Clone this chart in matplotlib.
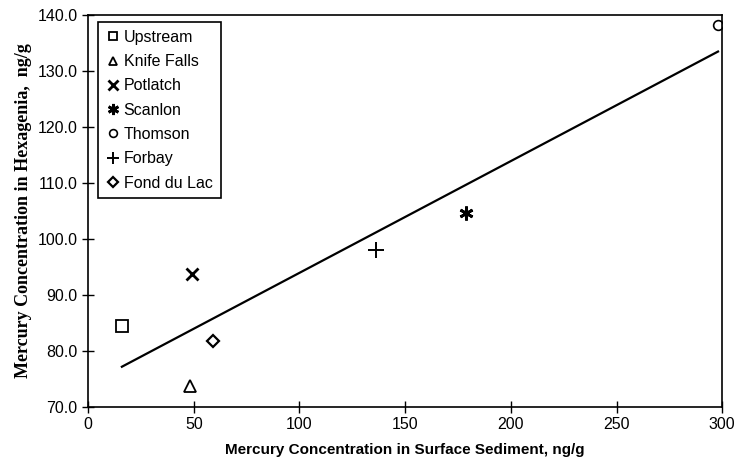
import numpy as np
import matplotlib
matplotlib.use("Agg")
import matplotlib.pyplot as plt

sites = ["Upstream", "Knife Falls", "Potlatch", "Scanlon", "Thomson", "Forbay", "Fond du Lac"]
sediment = [16, 48, 49, 179, 298, 136, 59]
hexagenia = [84.4, 73.7, 93.7, 104.7, 138.2, 98.1, 81.7]

markers = {
    "Upstream": ("s", 8, True, 1.3),
    "Knife Falls": ("^", 8, True, 1.3),
    "Potlatch": ("x", 9, False, 2.0),
    "Scanlon": ((6, 2, 0), 10, False, 2.0),
    "Thomson": ("o", 7, True, 1.2),
    "Forbay": ("+", 11, False, 1.4),
    "Fond du Lac": ("D", 6, True, 1.6),
}

plt.rcParams["font.family"] = "Liberation Sans"

fig = plt.figure(figsize=(7.4, 4.65), dpi=100)
ax = fig.add_axes([0.119, 0.125, 0.857, 0.843])

for name, x, y in zip(sites, sediment, hexagenia):
    m, s, hollow, mew = markers[name]
    if hollow:
        ax.plot(x, y, linestyle="none", marker=m, markersize=s, markerfacecolor="white",
                markeredgecolor="black", markeredgewidth=mew, label=name)
    else:
        ax.plot(x, y, linestyle="none", marker=m, markersize=s, color="black",
                markeredgewidth=mew, label=name)

# linear trend
slope, icpt = np.polyfit(sediment, hexagenia, 1)
xs = np.array([min(sediment), max(sediment)])
ax.plot(xs, slope * xs + icpt, color="black", linewidth=1.6)

ax.set_xlim(0, 300)
ax.set_ylim(70, 140)
ax.set_xticks(np.arange(0, 301, 50))
ax.set_yticks(np.arange(70, 141, 10))
ax.set_yticklabels([f"{v:.1f}" for v in np.arange(70, 141, 10)])
ax.tick_params(direction="inout", length=8, width=1, labelsize=11.5, colors="black")
for sp in ax.spines.values():
    sp.set_color("black")
    sp.set_linewidth(1.2)

ax.set_xlabel("Mercury Concentration in Surface Sediment, ng/g", fontsize=11,
              fontweight="bold", labelpad=8)
ax.set_ylabel("Mercury Concentration in Hexagenia,  ng/g", fontsize=13,
              fontweight="bold", family="Liberation Serif", labelpad=4)

leg = ax.legend(loc="upper left", bbox_to_anchor=(0.016, 0.982), borderaxespad=0,
                fontsize=11.5, fancybox=False, framealpha=1, edgecolor="black",
                handlelength=0.8, handletextpad=0.3, labelspacing=0.58,
                borderpad=0.5, numpoints=1)
leg.get_frame().set_linewidth(1.2)
for h in leg.legend_handles:
    h.set_markersize(h.get_markersize() * 0.8)

fig.savefig("out.png", dpi=100)
